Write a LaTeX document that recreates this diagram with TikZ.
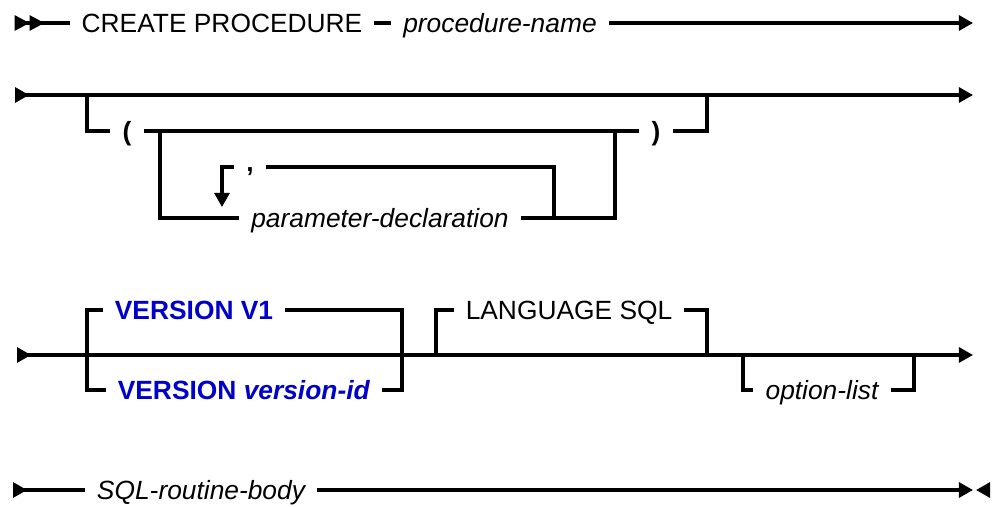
\documentclass[tikz,border=0pt]{standalone}
\usepackage{fontspec}
\setmainfont{Liberation Sans}
\usepackage{tikz}
\usetikzlibrary{arrows.meta}
\definecolor{kwblue}{RGB}{0,0,200}

\begin{document}
\begin{tikzpicture}[
x=0.02cm, y=-0.02cm,
line width=1.8pt,
every node/.style={font=\fontsize{15}{18}\selectfont, inner xsep=6pt, inner ysep=0pt, text height=10.7pt, text depth=0pt},
kwnode/.style={},
varnode/.style={font=\fontsize{15}{18}\selectfont\itshape},
bluenode/.style={font=\fontsize{15}{18}\selectfont\bfseries, text=kwblue},
punctnode/.style={font=\fontsize{15}{18}\selectfont\bfseries},
arrowend/.style={-{Triangle[length=8pt,width=8.5pt]}},
arrowstart/.style={{Triangle[length=8pt,width=8.5pt,reversed]}-},
arrowboth/.style={{Triangle[length=8pt,width=8.5pt,reversed]}-{Triangle[length=8pt,width=8.5pt]}},
]
\useasboundingbox (0,0) rectangle (994,507);

%Nodes
\node[kwnode](create) at (222,23){CREATE PROCEDURE};
\node[varnode](procname) at (500,23){procedure-name};
\node[punctnode](lparen) at (127,131){(};
\node[punctnode](rparen) at (656,131){)};
\node[varnode](param) at (380,218){parameter-declaration};
\node[punctnode, text height=5pt](comma) at (250,167){,};
\node[bluenode](v1) at (194,310){VERSION V1};
\node[bluenode](vid) at (244,390){VERSION \textit{version-id}};
\node[kwnode](lang) at (569,310){LANGUAGE SQL};
\node[varnode](optlist) at (822,390){option-list};
\node[varnode](body) at (201,490){SQL-routine-body};

%Points
\coordinate (start1) at (12,23);
\coordinate (end1) at (973,23);
\coordinate (start2) at (15,95);
\coordinate (end2) at (973,95);
\coordinate (parin) at (87,95);
\coordinate (parout) at (707,95);
\coordinate (listin) at (160,131);
\coordinate (listout) at (615,131);
\coordinate (repfrom) at (554,218);
\coordinate (repto) at (222,207);
\coordinate (start3) at (17,355);
\coordinate (end3) at (973,355);
\coordinate (verin) at (87,355);
\coordinate (verout) at (402,355);
\coordinate (langin) at (436,355);
\coordinate (langout) at (707,355);
\coordinate (optin) at (743,355);
\coordinate (optout) at (914,355);
\coordinate (start4) at (13,490);
\coordinate (end4) at (973,490);
\coordinate (stop4) at (990,490);
\coordinate (stopin) at (976,490);

%Row 1
\draw[{Triangle[length=8.5pt,width=8.5pt,reversed,sep=1.5pt]Triangle[length=8.5pt,width=8.5pt,reversed]}-](start1) -- (create.west);
\draw(create.east) -- (procname.west);
\draw[arrowend](procname.east) -- (end1);

%Row 2
\draw[arrowboth](start2) -- (end2);
\draw(parin) |- (lparen.west);
\draw(lparen.east) -- (rparen.west);
\draw(rparen.east) -| (parout);
\draw(listin) |- (param.west);
\draw(param.east) -| (listout);
\draw(repfrom) |- (comma.east);
\draw[arrowend](comma.west) -| (repto);

%Row 3
\draw[arrowboth](start3) -- (end3);
\draw(v1.west) -| (verin);
\draw(vid.west) -| (verin);
\draw(v1.east) -| (verout);
\draw(vid.east) -| (verout);
\draw(langin) |- (lang.west);
\draw(lang.east) -| (langout);
\draw(optin) |- (optlist.west);
\draw(optlist.east) -| (optout);

%Row 4
\draw[arrowstart](start4) -- (body.west);
\draw[arrowend](body.east) -- (end4);
\draw[arrowend](stop4) -- (stopin);
\end{tikzpicture}
\end{document}
